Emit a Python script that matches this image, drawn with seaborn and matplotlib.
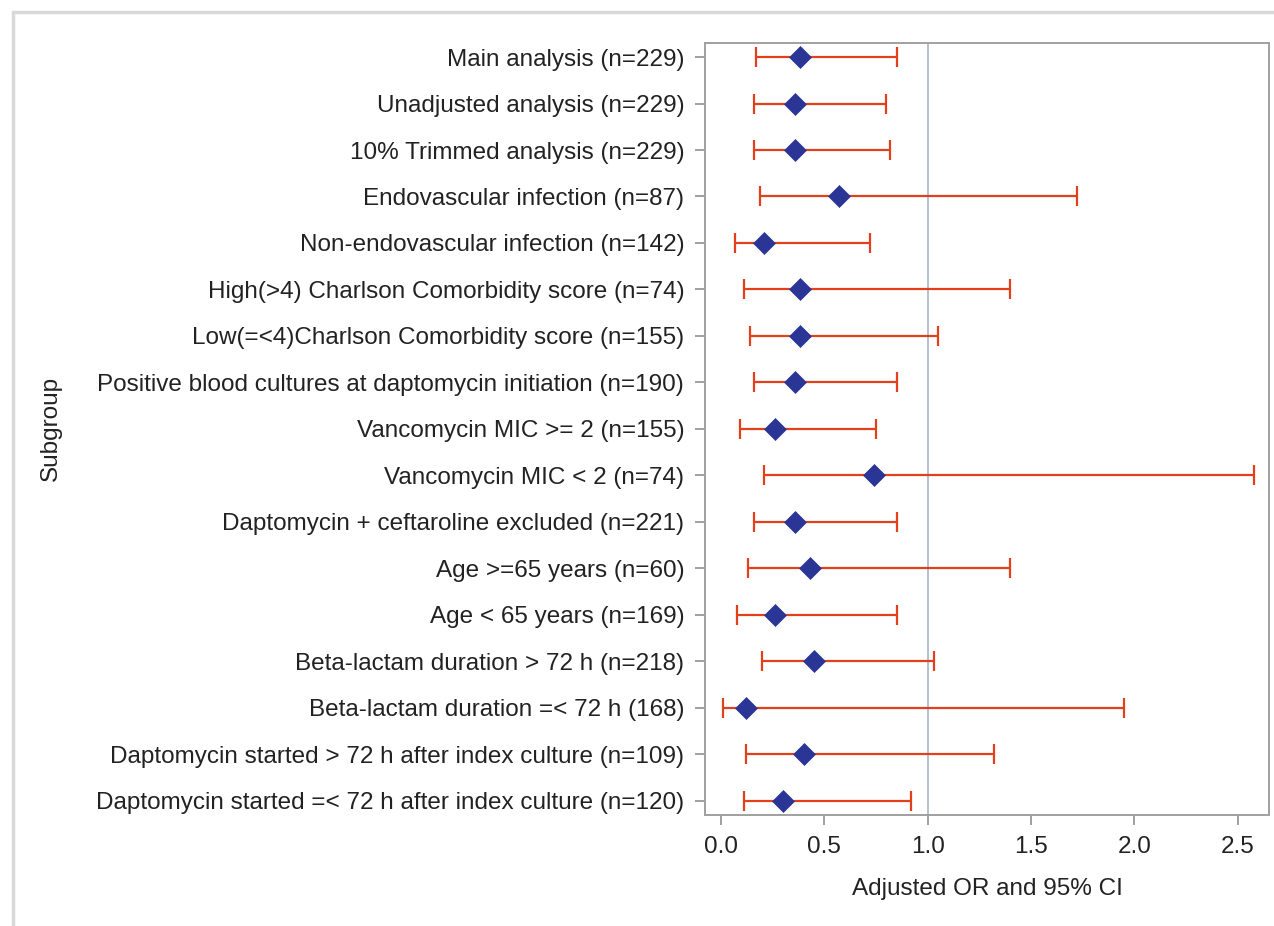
import numpy as np
import pandas as pd
import matplotlib
matplotlib.use("Agg")
from matplotlib import pyplot as plt
from matplotlib.lines import Line2D
import seaborn as sns

# subgroup analyses, top to bottom as in the figure
subgroups = [
    "Main analysis (n=229)",
    "Unadjusted analysis (n=229)",
    "10% Trimmed analysis (n=229)",
    "Endovascular infection (n=87)",
    "Non-endovascular infection (n=142)",
    "High(>4) Charlson Comorbidity score (n=74)",
    "Low(=<4)Charlson Comorbidity score (n=155)",
    "Positive blood cultures at daptomycin initiation (n=190)",
    "Vancomycin MIC >= 2 (n=155)",
    "Vancomycin MIC < 2 (n=74)",
    "Daptomycin + ceftaroline excluded (n=221)",
    "Age >=65 years (n=60)",
    "Age < 65 years (n=169)",
    "Beta-lactam duration > 72 h (n=218)",
    "Beta-lactam duration =< 72 h (168)",
    "Daptomycin started > 72 h after index culture (n=109)",
    "Daptomycin started =< 72 h after index culture (n=120)",
]
odds = [0.38, 0.36, 0.36, 0.57, 0.21, 0.38, 0.38, 0.36, 0.26, 0.74,
        0.36, 0.43, 0.26, 0.45, 0.12, 0.40, 0.30]
lower = [0.17, 0.16, 0.16, 0.19, 0.07, 0.11, 0.14, 0.16, 0.09, 0.21,
         0.16, 0.13, 0.08, 0.20, 0.01, 0.12, 0.11]
upper = [0.85, 0.80, 0.82, 1.72, 0.72, 1.40, 1.05, 0.85, 0.75, 2.58,
         0.85, 1.40, 0.85, 1.03, 1.95, 1.32, 0.92]
xticks = [0.0, 0.5, 1.0, 1.5, 2.0, 2.5]

df = pd.DataFrame({"Subgroup": subgroups, "OR": odds, "lo": lower, "hi": upper})

sns.set_style("white")
plt.rcParams["font.family"] = ["Liberation Sans", "DejaVu Sans"]

fig = plt.figure(figsize=(12.74, 9.26), dpi=100)
ax = fig.add_axes([0.5534, 0.1199, 0.9961 - 0.5534, 0.9539 - 0.1199])

# reference line at OR = 1
ax.axvline(1.0, color="#9fb0c3", lw=1.1, zorder=1)

# confidence intervals
ax.errorbar(df["OR"], df["Subgroup"],
            xerr=[df["OR"] - df["lo"], df["hi"] - df["OR"]],
            fmt="none", ecolor="#e2401c", elinewidth=1.6,
            capsize=7, capthick=1.6, zorder=2)

sns.scatterplot(data=df, x="OR", y="Subgroup", marker="D", s=125,
                color="#2b3595", edgecolor="#2b3595", linewidth=0.5,
                ax=ax, zorder=3, legend=False)

ax.set_xlim(-0.077, 2.651)
ax.set_ylim(len(subgroups) - 1 + 0.31, -0.31)
ax.set_xticks(xticks)
ax.set_xticklabels([f"{t:.1f}" for t in xticks])

ax.tick_params(axis="both", which="major", labelsize=17.5, labelcolor="#222222",
               color="#909090", length=7, width=1.2, pad=8,
               left=True, bottom=True)
for sp in ax.spines.values():
    sp.set_color("#a0a0a0")
    sp.set_linewidth(1.4)

ax.set_xlabel("Adjusted OR and 95% CI", fontsize=17.5, color="#222222")
ax.set_ylabel("Subgroup", fontsize=17.5, color="#222222")
ax.xaxis.set_label_coords(0.5, -0.082)
ax.yaxis.set_label_coords(-1.14, 0.5)

# light outer frame (top and left edges)
fig.add_artist(Line2D([0.0102, 1.0], [0.987, 0.987], transform=fig.transFigure,
                      color="#d9d9d9", lw=2.5))
fig.add_artist(Line2D([0.0102, 0.0102], [0.987, 0.0], transform=fig.transFigure,
                      color="#d9d9d9", lw=2.5))

plt.savefig("out.png", dpi=100)
